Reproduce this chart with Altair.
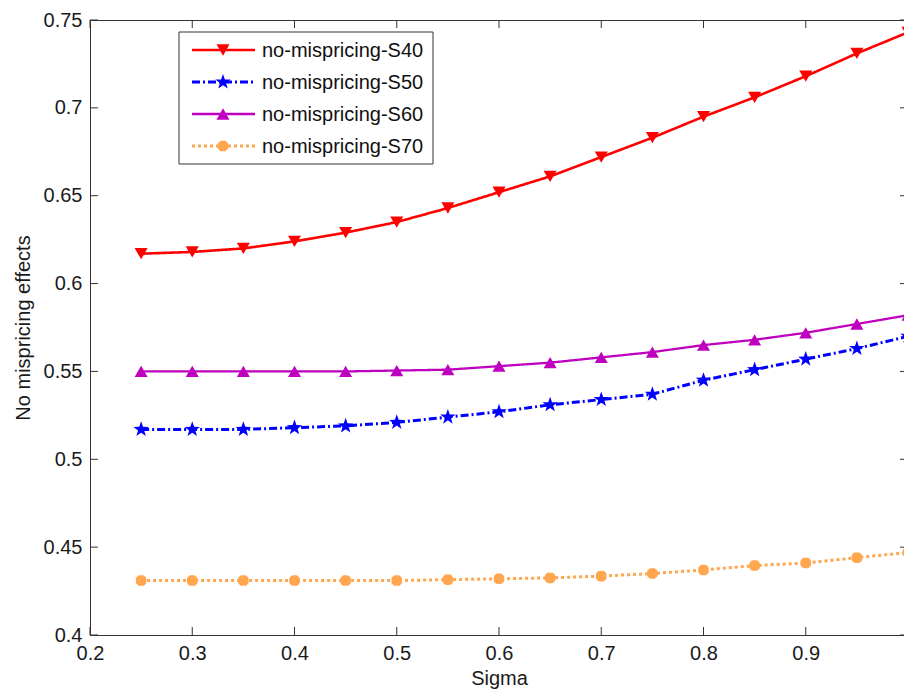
import altair as alt
import pandas as pd

# ---- data ----
sigma = [0.25, 0.30, 0.35, 0.40, 0.45, 0.50, 0.55, 0.60, 0.65, 0.70, 0.75, 0.80, 0.85, 0.90, 0.95, 1.00]
s40 = [0.617, 0.618, 0.620, 0.624, 0.629, 0.635, 0.643, 0.652, 0.661, 0.672, 0.683, 0.695, 0.706, 0.718, 0.731, 0.743]
s50 = [0.517, 0.517, 0.517, 0.518, 0.519, 0.521, 0.524, 0.527, 0.531, 0.534, 0.537, 0.545, 0.551, 0.557, 0.563, 0.570]
s60 = [0.550, 0.550, 0.550, 0.550, 0.550, 0.5505, 0.551, 0.553, 0.555, 0.558, 0.561, 0.565, 0.568, 0.572, 0.577, 0.582]
s70 = [0.431, 0.431, 0.431, 0.431, 0.431, 0.431, 0.4315, 0.432, 0.4325, 0.4335, 0.435, 0.437, 0.4395, 0.441, 0.444, 0.447]
names = ["no-mispricing-S40", "no-mispricing-S50", "no-mispricing-S60", "no-mispricing-S70"]
x_ticks = [0.2, 0.3, 0.4, 0.5, 0.6, 0.7, 0.8, 0.9, 1.0]
y_ticks = [0.4, 0.45, 0.5, 0.55, 0.6, 0.65, 0.7, 0.75]

W, H = 818, 615
FONT = "Liberation Sans"

STAR = "M0,-1L0.235,-0.324L0.951,-0.309L0.380,0.124L0.588,0.809L0,0.4L-0.588,0.809L-0.380,0.124L-0.951,-0.309L-0.235,-0.324Z"
ASTER = "M-1,0L1,0M0,-1L0,1M-0.75,-0.75L0.75,0.75M-0.75,0.75L0.75,-0.75"

styles = [
    dict(color="#FF0000", dash=[1, 0], width=2.6, shape="triangle-down", filled=True, size=170, sw=1),
    dict(color="#0000FF", dash=[8, 3, 2, 3], width=3, shape=STAR, filled=True, size=260, sw=1),
    dict(color="#BF00BF", dash=[1, 0], width=2.3, shape="triangle-up", filled=True, size=170, sw=1),
    dict(color="#FFA64F", dash=[3, 3], width=3, shape=ASTER, filled=False, size=110, sw=4),
]

rows = []
for name, vals in zip(names, [s40, s50, s60, s70]):
    for s, v in zip(sigma, vals):
        rows.append({"sigma": s, "value": v, "series": name})
df = pd.DataFrame(rows)

xscale = alt.Scale(domain=[0.2, 1.0], nice=False, zero=False)
yscale = alt.Scale(domain=[0.4, 0.75], nice=False, zero=False)

xenc = alt.X("sigma:Q", scale=xscale, axis=alt.Axis(
    title="Sigma", values=x_ticks, format=".1~f", ticks=False, grid=False,
    labelFont=FONT, labelFontSize=20, labelColor="#1a1a1a", labelPadding=8,
    titleFont=FONT, titleFontSize=20, titleFontWeight="normal", titleColor="#1a1a1a",
    titlePadding=5, domainColor="#333", labelFlush=False))
yenc = alt.Y("value:Q", scale=yscale, axis=alt.Axis(
    title="No mispricing effects", values=y_ticks, format=".2~f", ticks=False, grid=False,
    labelFont=FONT, labelFontSize=20, labelColor="#1a1a1a", labelPadding=8,
    titleFont=FONT, titleFontSize=20, titleFontWeight="normal", titleColor="#1a1a1a",
    titlePadding=10, domainColor="#333", labelFlush=False))

layers = []
for name, st in zip(names, styles):
    base = alt.Chart(df).transform_filter(alt.datum.series == name)
    layers.append(base.mark_line(color=st["color"], strokeDash=st["dash"], strokeWidth=st["width"]).encode(x=xenc, y=yenc))
    layers.append(base.mark_point(shape=st["shape"], filled=st["filled"], color=st["color"],
                                  size=st["size"], strokeWidth=st["sw"], opacity=1).encode(x=xenc, y=yenc))

# inward tick marks on all four sides
xt = pd.DataFrame({"t": x_ticks})
yt = pd.DataFrame({"t": y_ticks})
tick_color = "#333"
layers.append(alt.Chart(xt).mark_rule(color=tick_color).encode(
    x=alt.X("t:Q", scale=xscale), y=alt.value(H), y2=alt.value(H - 8)))
layers.append(alt.Chart(xt).mark_rule(color=tick_color).encode(
    x=alt.X("t:Q", scale=xscale), y=alt.value(0), y2=alt.value(8)))
layers.append(alt.Chart(yt).mark_rule(color=tick_color).encode(
    y=alt.Y("t:Q", scale=yscale), x=alt.value(0), x2=alt.value(8)))
layers.append(alt.Chart(yt).mark_rule(color=tick_color).encode(
    y=alt.Y("t:Q", scale=yscale), x=alt.value(W), x2=alt.value(W - 8)))

# legend box
one = alt.Data(values=[{"k": 0}])
layers.append(alt.Chart(one).mark_rect(fill="white", stroke="#333", strokeWidth=1).encode(
    x=alt.value(89), x2=alt.value(343), y=alt.value(12), y2=alt.value(144)))
for i, (name, st) in enumerate(zip(names, styles)):
    ly = 30 + i * 32
    layers.append(alt.Chart(one).mark_rule(color=st["color"], strokeDash=st["dash"], strokeWidth=st["width"]).encode(
        x=alt.value(102), x2=alt.value(165), y=alt.value(ly)))
    layers.append(alt.Chart(one).mark_point(shape=st["shape"], filled=st["filled"], color=st["color"],
                                            size=st["size"], strokeWidth=st["sw"], opacity=1).encode(
        x=alt.value(133), y=alt.value(ly)))
    layers.append(alt.Chart(one).mark_text(text=name, align="left", baseline="middle", font=FONT,
                                           fontSize=20, color="#111").encode(
        x=alt.value(172), y=alt.value(ly + 1)))

chart = alt.layer(*layers).properties(
    width=W, height=H,
    autosize=alt.AutoSizeParams(type="none"),
    padding={"left": 82, "top": 12, "right": -4, "bottom": 54},
    background="white",
).configure_view(stroke="#333", strokeWidth=1)

chart.save("out.html", embed_options={"renderer": "svg", "actions": False})
